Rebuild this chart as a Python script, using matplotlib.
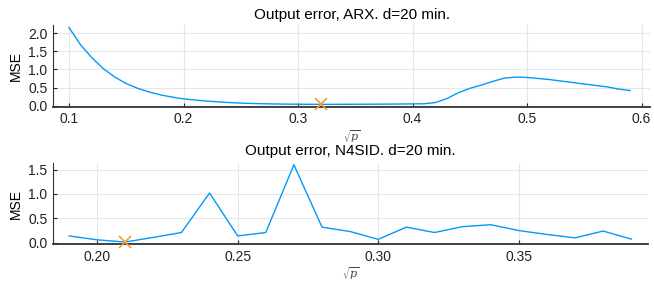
import matplotlib
matplotlib.use('Agg')
import matplotlib.pyplot as plt

plt.rcParams['font.family'] = ['Liberation Sans', 'DejaVu Sans']
plt.rcParams['mathtext.fontset'] = 'dejavuserif'

# ARX: MSE vs sqrt(p)
arx_x = [0.10, 0.11, 0.12, 0.13, 0.14, 0.15, 0.16, 0.17, 0.18, 0.19,
         0.20, 0.21, 0.22, 0.23, 0.24, 0.25, 0.26, 0.27, 0.28, 0.29,
         0.30, 0.31, 0.32, 0.33, 0.34, 0.35, 0.36, 0.37, 0.38, 0.39,
         0.40, 0.41, 0.42, 0.43, 0.44, 0.45, 0.46, 0.47, 0.48, 0.49,
         0.50, 0.51, 0.52, 0.53, 0.54, 0.55, 0.56, 0.57, 0.58, 0.59]
arx_mse = [2.15, 1.68, 1.32, 1.02, 0.79, 0.61, 0.48, 0.38, 0.30, 0.24,
           0.19, 0.16, 0.13, 0.11, 0.09, 0.075, 0.065, 0.057, 0.051, 0.047,
           0.044, 0.042, 0.040, 0.041, 0.042, 0.043, 0.044, 0.046, 0.048, 0.050,
           0.053, 0.057, 0.09, 0.20, 0.36, 0.48, 0.57, 0.67, 0.76, 0.79,
           0.78, 0.75, 0.72, 0.68, 0.64, 0.60, 0.56, 0.52, 0.46, 0.42]

# N4SID: MSE vs sqrt(p)
n4_x = [0.19, 0.20, 0.21, 0.22, 0.23, 0.24, 0.25, 0.26, 0.27, 0.28, 0.29,
        0.30, 0.31, 0.32, 0.33, 0.34, 0.35, 0.36, 0.37, 0.38, 0.39]
n4_mse = [0.14, 0.06, 0.015, 0.11, 0.21, 1.02, 0.14, 0.21, 1.60, 0.32, 0.23,
          0.07, 0.32, 0.21, 0.33, 0.37, 0.25, 0.17, 0.10, 0.24, 0.075]

blue = '#009AFA'
orange = '#F39B2B'

fig = plt.figure(figsize=(6.54, 2.89), dpi=100)
ax1 = fig.add_axes([0.081, 0.630, 0.913, 0.2835])
ax2 = fig.add_axes([0.081, 0.155, 0.910, 0.280])


def style(ax):
    ax.grid(True, color='#e6e6e6', linewidth=0.8)
    ax.set_axisbelow(True)
    for s in ['top', 'right']:
        ax.spines[s].set_visible(False)
    ax.spines['left'].set_color('#333333')
    ax.spines['bottom'].set_color('#333333')
    ax.spines['bottom'].set_linewidth(1.3)
    ax.tick_params(direction='in', length=3, labelsize=10, colors='#222222', pad=4)


i1 = arx_mse.index(min(arx_mse))
ax1.plot(arx_x, arx_mse, color=blue, lw=1.0, zorder=3)
ax1.plot([arx_x[i1]], [arx_mse[i1]], 'x', color=orange, ms=8, mew=1.2,
         zorder=4, clip_on=False)
ax1.set_xlim(0.086, 0.6074)
ax1.set_ylim(-0.03, 2.22)
ax1.set_xticks([0.1, 0.2, 0.3, 0.4, 0.5, 0.6])
ax1.set_xticklabels(['0.1', '0.2', '0.3', '0.4', '0.5', '0.6'])
ax1.set_yticks([0.0, 0.5, 1.0, 1.5, 2.0])
ax1.set_yticklabels(['0.0', '0.5', '1.0', '1.5', '2.0'])
ax1.set_title('Output error, ARX. d=20 min.', fontsize=11, pad=4)
ax1.set_ylabel('MSE', fontsize=10)
ax1.set_xlabel(r'$\sqrt{p}$', fontsize=8, labelpad=1, color='#444444')
style(ax1)

i2 = n4_mse.index(min(n4_mse))
ax2.plot(n4_x, n4_mse, color=blue, lw=1.0, zorder=3)
ax2.plot([n4_x[i2]], [n4_mse[i2]], 'x', color=orange, ms=8, mew=1.2,
         zorder=4, clip_on=False)
ax2.set_xlim(0.1843, 0.396)
ax2.set_ylim(-0.03, 1.63)
ax2.set_xticks([0.20, 0.25, 0.30, 0.35])
ax2.set_xticklabels(['0.20', '0.25', '0.30', '0.35'])
ax2.set_yticks([0.0, 0.5, 1.0, 1.5])
ax2.set_yticklabels(['0.0', '0.5', '1.0', '1.5'])
ax2.set_title('Output error, N4SID. d=20 min.', fontsize=11, pad=6)
ax2.set_ylabel('MSE', fontsize=10)
ax2.set_xlabel(r'$\sqrt{p}$', fontsize=8, labelpad=1, color='#444444')
style(ax2)

fig.savefig('out.png', dpi=100)
